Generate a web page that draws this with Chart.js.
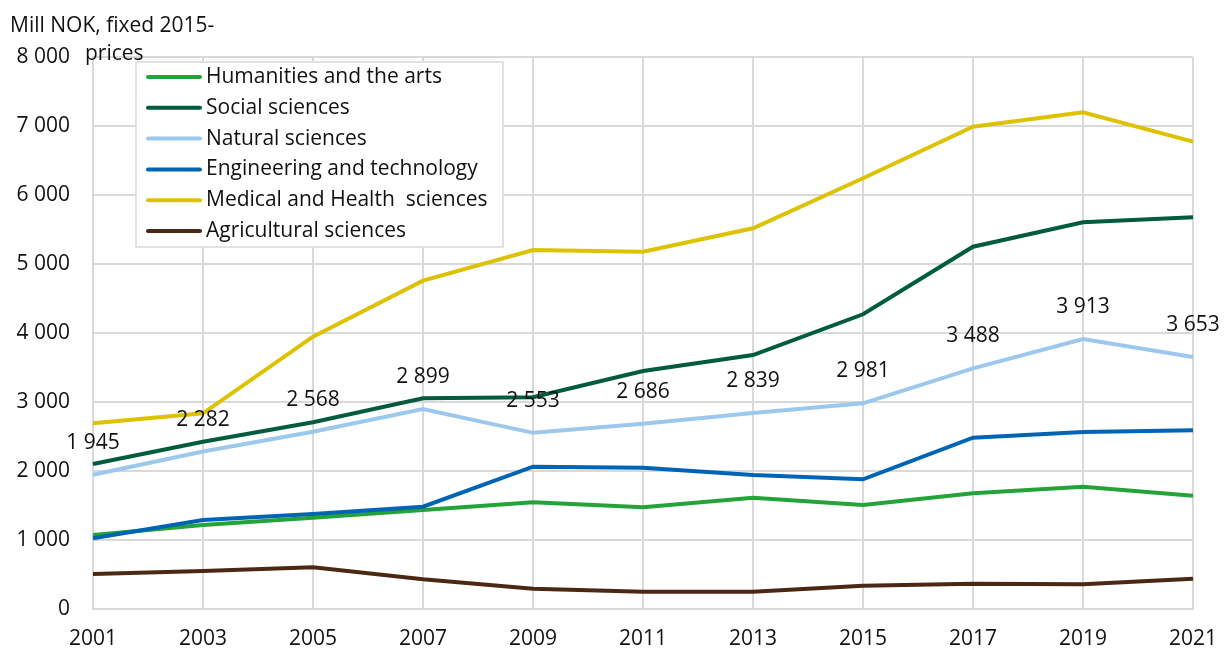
<!DOCTYPE html>
<html>
<head>
<meta charset="utf-8">
<script src="https://cdn.jsdelivr.net/npm/chart.js@4/dist/chart.umd.min.js"></script>
<style>
  html, body { margin: 0; padding: 0; background: #fff; }
  #wrap { width: 1224px; height: 650px; }
</style>
</head>
<body>
<div id="wrap"><canvas id="myChart" width="1224" height="650"></canvas></div>
<script>
var years = ['2001', '2003', '2005', '2007', '2009', '2011', '2013', '2015', '2017', '2019', '2021'];

var humanities = [1072, 1217, 1324, 1435, 1546, 1473, 1613, 1507, 1676, 1773, 1643];
var social = [2101, 2425, 2706, 3053, 3068, 3449, 3681, 4271, 5251, 5604, 5677];
var natural = [1945, 2282, 2568, 2899, 2553, 2686, 2839, 2981, 3488, 3913, 3653];
var engineering = [1024, 1290, 1377, 1483, 2063, 2048, 1942, 1879, 2483, 2565, 2589];
var medical = [2691, 2836, 3947, 4758, 5203, 5179, 5517, 6242, 6990, 7198, 6773];
var agricultural = [507, 551, 604, 430, 295, 251, 251, 338, 367, 357, 440];

var seriesNames = [
  'Humanities and the arts',
  'Social sciences',
  'Natural sciences',
  'Engineering and technology',
  'Medical and Health  sciences',
  'Agricultural sciences'
];
var seriesColors = ['#24a339', '#005b3f', '#9bc8ec', '#0064b4', '#dcc200', '#4b2814'];
var seriesData = [humanities, social, natural, engineering, medical, agricultural];

var FONT = '"Open Sans", "Noto Sans", sans-serif';
var TEXT = '#111111';

function fmt(v) {
  return String(v).replace(/\B(?=(\d{3})+(?!\d))/g, ' ');
}

// labels above the natural sciences line
var valueLabels = {
  id: 'valueLabels',
  afterDatasetsDraw: function(chart) {
    var ctx = chart.ctx;
    var meta = chart.getDatasetMeta(2);
    ctx.save();
    ctx.font = '21px ' + FONT;
    ctx.fillStyle = TEXT;
    ctx.textAlign = 'center';
    ctx.textBaseline = 'middle';
    meta.data.forEach(function(pt, i) {
      ctx.fillText(fmt(natural[i]), pt.x, pt.y - 32);
    });
    ctx.restore();
  }
};

// legend box inside the plot + axis title
var boxLegend = {
  id: 'boxLegend',
  afterDraw: function(chart) {
    var ctx = chart.ctx;
    ctx.save();
    ctx.font = '21px ' + FONT;
    ctx.fillStyle = TEXT;
    ctx.textAlign = 'left';
    ctx.textBaseline = 'middle';
    ctx.fillText('Mill NOK, fixed 2015-', 10, 26);
    ctx.fillText('prices', 85, 54);

    ctx.fillStyle = '#ffffff';
    ctx.fillRect(136, 62, 367, 185);
    ctx.strokeStyle = '#d9d9d9';
    ctx.lineWidth = 1.5;
    ctx.strokeRect(136, 62, 367, 185);

    seriesNames.forEach(function(name, i) {
      var y = 77 + i * 30.8;
      ctx.strokeStyle = seriesColors[i];
      ctx.lineWidth = 4;
      ctx.lineCap = 'round';
      ctx.beginPath();
      ctx.moveTo(148, y);
      ctx.lineTo(200, y);
      ctx.stroke();
      ctx.fillStyle = TEXT;
      ctx.fillText(name, 206, y);
    });
    ctx.restore();
  }
};

var ctx = document.getElementById('myChart').getContext('2d');

var myChart = new Chart(ctx, {
  type: 'line',
  data: {
    labels: years,
    datasets: seriesData.map(function(values, i) {
      return {
        label: seriesNames[i],
        data: values,
        borderColor: seriesColors[i],
        backgroundColor: seriesColors[i],
        borderWidth: 4,
        pointRadius: 0,
        tension: 0,
        order: seriesData.length - i
      };
    })
  },
  options: {
    responsive: false,
    animation: false,
    layout: { padding: { top: 57, right: 31, left: 0, bottom: 0 } },
    plugins: {
      legend: { display: false },
      tooltip: { enabled: false }
    },
    scales: {
      x: {
        offset: false,
        grid: { color: '#d9d9d9', lineWidth: 2, drawTicks: false },
        border: { color: '#d9d9d9', width: 2 },
        ticks: { color: TEXT, font: { family: FONT, size: 21 }, padding: 17, maxRotation: 0 },
        afterFit: function(scale) {
          scale.height = 41;
          scale.paddingLeft = 0;
          scale.paddingRight = 0;
        }
      },
      y: {
        min: 0,
        max: 8000,
        grid: { color: '#d9d9d9', lineWidth: 2, drawTicks: false },
        border: { color: '#d9d9d9', width: 2 },
        ticks: {
          stepSize: 1000,
          color: TEXT,
          font: { family: FONT, size: 21 },
          padding: 23,
          callback: function(v) { return fmt(v); }
        },
        afterFit: function(scale) { scale.width = 93; }
      }
    }
  },
  plugins: [valueLabels, boxLegend]
});
</script>
</body>
</html>
